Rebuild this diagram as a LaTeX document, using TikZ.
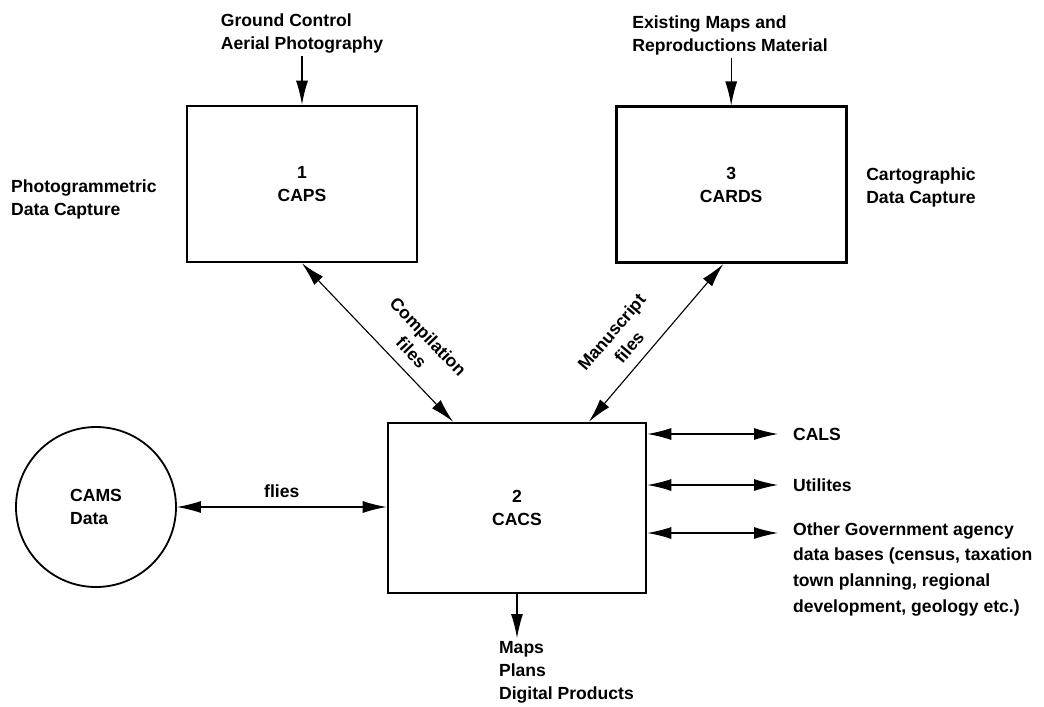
\documentclass[tikz,border=0pt]{standalone}
\usepackage{fontspec}
\setmainfont{Liberation Sans}
\usetikzlibrary{positioning,arrows.meta}

\begin{document}
\begin{tikzpicture}[
        font=\fontsize{12.5}{16.4}\selectfont\bfseries,
        unit/.style={rectangle, draw=black, line width=1.9pt, minimum width=5.75cm, minimum height=3.9cm, align=center},
        store/.style={circle, draw=black, line width=1.3pt, minimum size=4cm, align=left},
        note/.style={align=left, inner sep=2pt},
        flow/.style={line width=0.8pt, >={Latex[length=6mm, width=3mm]}}
    ]
    \useasboundingbox (0,0) rectangle (26.1,-17.675);

    % Capture units
    \node[unit] (caps) at (7.55, -4.6) {1\\CAPS};
    \node[unit] (cards) at (18.28, -4.62) {3\\CARDS};
    \node[unit, minimum width=6.45cm, minimum height=4.25cm] (cacs) at (12.925, -12.7) {2\\CACS};
    \node[store] (cams) at (2.4, -12.675) {CAMS\\Data};

    % Inputs and side notes
    \node[note] (ground) at (7.55, -0.84) {Ground Control\\Aerial Photography};
    \node[note] (maps) at (18.25, -0.89) {Existing Maps and\\Reproductions Material};
    \node[note, anchor=west] (photo) at (0.2, -4.99) {Photogrammetric\\Data Capture};
    \node[note, anchor=west] (carto) at (21.58, -4.69) {Cartographic\\Data Capture};
    \draw[flow, ->] (ground) -- (caps);
    \draw[flow, ->] (cards.north |- maps.south) -- (cards.north);

    % Files between the units
    \draw[flow, <->] (caps.south) -- node[note, sloped, above=2mm, pos=0.64, align=center] {Compilation\\files} ([xshift=-1.6cm]cacs.north);
    \draw[flow, <->] ([xshift=1.8cm]cacs.north) -- node[note, sloped, above=2mm, pos=0.40, align=center] {Manuscript\\files} ([xshift=-0.2cm]cards.south);
    \draw[flow, <->] (cams.east) -- node[above=1mm] (fl) {flies} (cams.east -| cacs.west);

    % Outputs of CACS
    \node[note, anchor=west] (cals) at (19.75, -10.85) {CALS};
    \node[note, anchor=west] (util) at (19.75, -12.125) {Utilites};
    \node[note, anchor=north west, font=\fontsize{12.5}{18.3}\selectfont\bfseries] (other) at (19.75, -12.98) {Other Government agency\\data bases (census, taxation\\town planning, regional\\development, geology etc.)};
    \coordinate (otherin) at (19.45, -13.325);
    \draw[flow, <->] (cacs.east |- cals) -- ([xshift=-3mm]cals.west);
    \draw[flow, <->] (cacs.east |- util) -- ([xshift=-3mm]util.west);
    \draw[flow, <->] (cacs.east |- otherin) -- (otherin);

    \node[note, anchor=north west] (prod) at (12.4, -15.95) {Maps\\Plans\\Digital Products};
    \draw[flow, ->] (cacs.south) -- (cacs.south |- prod.north);
\end{tikzpicture}
\end{document}
